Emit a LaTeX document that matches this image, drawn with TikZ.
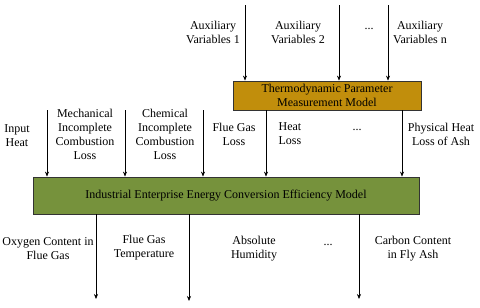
\documentclass[tikz,border=0pt]{standalone}
\usepackage{fontspec}
\setmainfont{Liberation Serif}
\usetikzlibrary{arrows.meta}
\definecolor{thermobrown}{HTML}{C18E0C}
\definecolor{modelgreen}{HTML}{76923C}

\begin{document}
\begin{tikzpicture}[x=1pt, y=-1pt, font=\fontsize{12}{14}\selectfont, align=center,
    >={Stealth[length=5pt,width=4pt]}, line width=0.6pt,
    every node/.style={inner sep=0pt},
    modelbox/.style={draw=black!80, line width=0.8pt}]
  \useasboundingbox (0,0) rectangle (480,308);

  % models
  \node (thermo) [modelbox, fill=thermobrown, minimum width=188pt, minimum height=29pt] at (327,95.5) {Thermodynamic Parameter\\Measurement Model};
  \node (model) [modelbox, fill=modelgreen, minimum width=386pt, minimum height=37pt] at (226,195.5) {Industrial Enterprise Energy Conversion Efficiency Model};

  % auxiliary inputs
  \node (aux1) at (213,32) {Auxiliary\\Variables 1};
  \node (aux2) at (298,32) {Auxiliary\\Variables 2};
  \node (auxd) at (369,29) {...};
  \node (auxn) at (420,32) {Auxiliary\\Variables n};
  \coordinate (a1) at (245,5);
  \coordinate (a2) at (339,5);
  \coordinate (an) at (388,5);
  \draw [->] (a1) -- (a1 |- thermo.north);
  \draw [->] (a2) -- (a2 |- thermo.north);
  \draw [->] (an) -- (an |- thermo.north);

  % losses
  \node (input) at (17,136) {Input\\Heat};
  \node (mech) at (85,134.5) {Mechanical\\Incomplete\\Combustion\\Loss};
  \node (chem) at (165,134.5) {Chemical\\Incomplete\\Combustion\\Loss};
  \node (flue) at (234,134) {Flue Gas\\Loss};
  \node (heat) at (290,134) {Heat\\Loss};
  \node (lossd) at (357,130) {...};
  \node (ash) at (441,134) {Physical Heat\\Loss of Ash};
  \coordinate (l1) at (47,110);
  \coordinate (l2) at (125,110);
  \coordinate (l3) at (203,110);
  \coordinate (l4) at (266,0);
  \coordinate (l5) at (402,0);
  \draw [->] (l1) -- (l1 |- model.north);
  \draw [->] (l2) -- (l2 |- model.north);
  \draw [->] (l3) -- (l3 |- model.north);
  \draw [->] (thermo.south -| l4) -- (model.north -| l4);
  \draw [->] (thermo.south -| l5) -- (model.north -| l5);

  % outputs
  \node (oxy) at (48,249) {Oxygen Content in\\Flue Gas};
  \node (temp) at (144,248) {Flue Gas\\Temperature};
  \node (hum) at (254,249) {Absolute\\Humidity};
  \node (outd) at (328,245) {...};
  \node (carbon) at (413,249) {Carbon Content\\in Fly Ash};
  \coordinate (o1) at (96,299);
  \coordinate (o2) at (189,301);
  \coordinate (o3) at (359,299);
  \draw [->] (model.south -| o1) -- (o1);
  \draw [->] (model.south -| o2) -- (o2);
  \draw [->] (model.south -| o3) -- (o3);
\end{tikzpicture}
\end{document}
